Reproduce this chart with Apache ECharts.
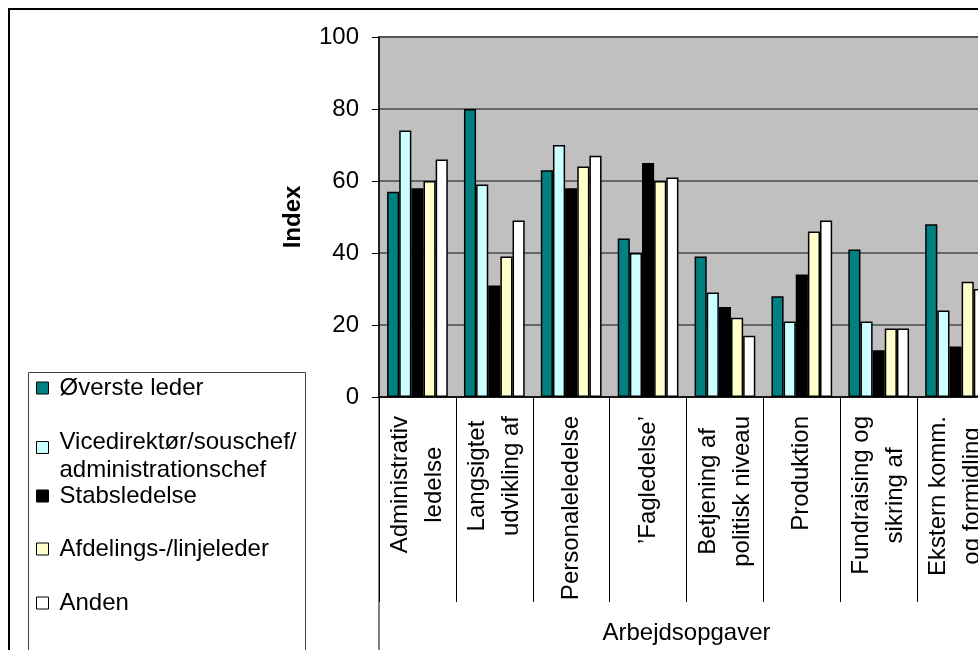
<!DOCTYPE html>
<html>
<head>
<meta charset="utf-8">
<title>Arbejdsopgaver – Index</title>
<script src="https://cdn.jsdelivr.net/npm/echarts@6/dist/echarts.min.js"></script>
<style>
  html, body { margin: 0; padding: 0; background: #ffffff; }
  #chart { width: 978px; height: 650px; }
</style>
</head>
<body>
<div id="chart"></div>
<script>
// Work-task categories (line breaks as shown under the axis)
const categories = [
  'Administrativ\nledelse',
  'Langsigtet\nudvikling af',
  'Personaleledelse',
  '’Fagledelse’',
  'Betjening af\npolitisk niveau',
  'Produktion',
  'Fundraising og\nsikring af',
  'Ekstern komm.\nog formidling'
];

// Leader groups
const seriesNames = [
  'Øverste leder',
  'Vicedirektør/souschef/administrationschef',
  'Stabsledelse',
  'Afdelings-/linjeleder',
  'Anden'
];

// Index values per category
const overste      = [57, 80, 63, 44, 39, 28, 41, 48];
const vicedirektor = [74, 59, 70, 40, 29, 21, 21, 24];
const stabs        = [58, 31, 58, 65, 25, 34, 13, 14];
const afdelings    = [60, 39, 64, 60, 22, 46, 19, 32];
const anden        = [66, 49, 67, 61, 17, 49, 19, 30];

// Value axis ticks
const yTicks = [0, 20, 40, 60, 80, 100];

const seriesValues = [overste, vicedirektor, stabs, afdelings, anden];
const seriesColors = ['#008080', '#CCFFFF', '#000000', '#FFFFCC', '#FFFFFF'];

const FONT = "'Liberation Sans', Arial, sans-serif";

const chart = echarts.init(document.getElementById('chart'), null, { renderer: 'canvas' });

const series = seriesNames.map((name, i) => ({
  name: name,
  type: 'bar',
  data: seriesValues[i],
  barGap: '0%',
  barCategoryGap: '21%',
  itemStyle: { color: seriesColors[i], borderColor: '#000000', borderWidth: 1.5 },
  emphasis: { disabled: true }
}));

// Legend entry text: long names wrap after the second slash; the first line
// gets the taller line box so the swatch sits beside it.
function legendText(name) {
  const cut = name.indexOf('souschef/');
  if (cut < 0) return name;
  const first = name.slice(0, cut + 'souschef/'.length);
  const second = name.slice(cut + 'souschef/'.length);
  return '{l1|' + first + '}\n{l2|' + second + '}';
}

// One legend block per entry so the stacked entries keep their own spacing
const legendTops = [374, 419.5, 482, 535, 589];
const legends = seriesNames.map((name, i) => ({
  data: [name],
  orient: 'vertical',
  left: 36,
  top: legendTops[i],
  padding: 0,
  itemWidth: 12,
  itemHeight: 12,
  icon: 'rect',
  selectedMode: false,
  itemStyle: { borderColor: '#000000', borderWidth: 1 },
  formatter: legendText,
  textStyle: {
    fontFamily: FONT,
    fontSize: 24,
    lineHeight: 28,
    color: '#000000',
    padding: [0, 0, 0, 6],
    rich: {
      l1: { fontFamily: FONT, fontSize: 24, lineHeight: 45, color: '#000000' },
      l2: { fontFamily: FONT, fontSize: 24, lineHeight: 11, color: '#000000' }
    }
  }
}));

const option = {
  animation: false,
  backgroundColor: '#ffffff',
  textStyle: { fontFamily: FONT },
  graphic: [
    {
      type: 'rect', z: 0, silent: true,
      shape: { x: 9, y: 9, width: 1200, height: 1000 },
      style: { fill: 'none', stroke: '#000000', lineWidth: 2 }
    },
    {
      type: 'rect', z: 0, silent: true,
      shape: { x: 28.5, y: 372.5, width: 277, height: 400 },
      style: { fill: 'none', stroke: '#404040', lineWidth: 1 }
    },
    {
      type: 'line', z: 0, silent: true,
      shape: { x1: 379, y1: 397, x2: 379, y2: 660 },
      style: { stroke: '#000000', lineWidth: 1 }
    }
  ],
  legend: legends,
  grid: {
    left: 379,
    top: 37,
    right: -16,
    bottom: 253,
    containLabel: false,
    outerBoundsMode: 'none',
    show: true,
    backgroundColor: '#C0C0C0',
    borderColor: '#808080',
    borderWidth: 2
  },
  xAxis: {
    type: 'category',
    data: categories,
    boundaryGap: true,
    name: 'Arbejdsopgaver',
    nameLocation: 'middle',
    nameGap: 224,
    nameTextStyle: { fontFamily: FONT, fontSize: 24, color: '#000000' },
    axisLine: { show: true, lineStyle: { color: '#000000', width: 1.5 } },
    axisTick: { show: true, inside: false, length: 205, alignWithLabel: false, interval: 0,
      lineStyle: { color: '#000000', width: 1 } },
    axisLabel: {
      interval: 0,
      rotate: 90,
      margin: 19,
      align: 'right',
      verticalAlign: 'middle',
      hideOverlap: false,
      color: '#000000',
      fontFamily: FONT,
      fontSize: 24,
      lineHeight: 34,
      formatter: v => v.split('\n').map(s => '{c|' + s + '}').join('\n'),
      rich: {
        c: { align: 'center', fontFamily: FONT, fontSize: 24, lineHeight: 34, color: '#000000' }
      }
    },
    splitLine: { show: false }
  },
  yAxis: {
    type: 'value',
    min: yTicks[0],
    max: yTicks[yTicks.length - 1],
    interval: yTicks[1] - yTicks[0],
    name: 'Index',
    nameLocation: 'middle',
    nameGap: 74,
    nameRotate: 90,
    nameTextStyle: { fontFamily: FONT, fontSize: 24, fontWeight: 'bold', color: '#000000' },
    axisLine: { show: true, lineStyle: { color: '#000000', width: 1.5 } },
    axisTick: { show: true, inside: false, length: 7, lineStyle: { color: '#000000', width: 1 } },
    axisLabel: { margin: 20, color: '#000000', fontFamily: FONT, fontSize: 24 },
    splitLine: { show: true, lineStyle: { color: '#4a4a4a', width: 1.5 } }
  },
  series: series
};

chart.setOption(option);
</script>
</body>
</html>
